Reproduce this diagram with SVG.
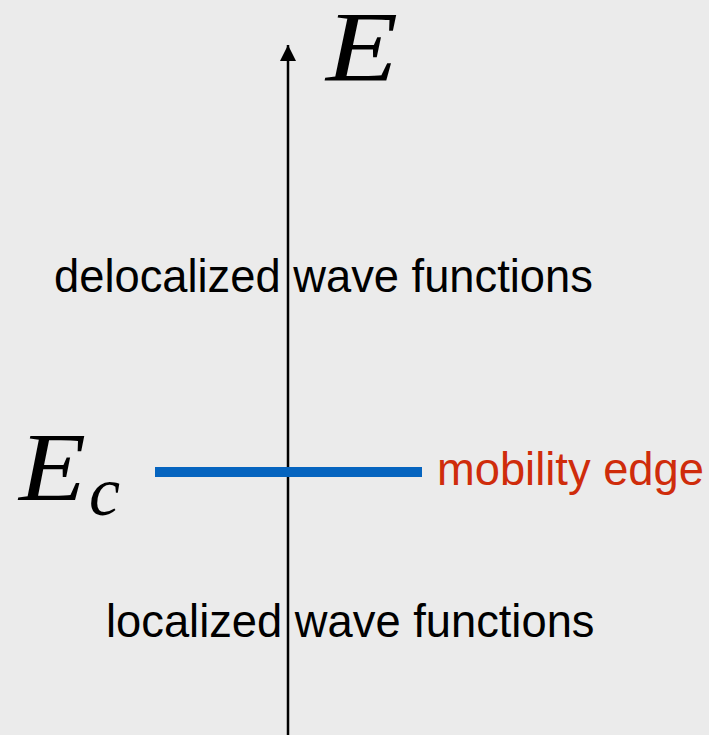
<svg xmlns="http://www.w3.org/2000/svg" width="709" height="735" viewBox="0 0 709 735">
<style>
.math{font-family:"Liberation Serif","Times New Roman",serif;font-style:italic;fill:#000}
.lbl{font-family:"Liberation Sans",Arial,sans-serif;font-size:45.3px;fill:#000}
.red{fill:#cf2c0b}
</style>
<defs>
<marker id="arr" viewBox="0 0 16 16" refX="16" refY="8" markerWidth="16" markerHeight="16" markerUnits="userSpaceOnUse" orient="auto">
<path d="M0,0 L16,8 L0,16 Z" fill="#000"/>
</marker>
</defs>
<rect width="709" height="735" fill="#ebebeb"/>
<g id="connectors">
<line x1="288" y1="735" x2="288" y2="45" stroke="#000" stroke-width="2.5" marker-end="url(#arr)"/>
</g>
<g id="axis-label">
<text class="math" transform="translate(326,80) scale(1.18,1)" x="0" y="0" font-size="100">E</text>
</g>
<g id="mobility-edge-line">
<rect x="155" y="467" width="267" height="10" fill="#0564bf"/>
</g>
<g id="ec-label">
<text class="math" transform="translate(19,500) scale(1.12,1)" x="0" y="0" font-size="98">E</text>
<text class="math" x="89" y="515" font-size="70">c</text>
</g>
<g id="mobility-edge-label">
<text class="lbl red" x="437" y="485">mobility edge</text>
</g>
<g id="delocalized">
<text class="lbl" x="54" y="292">delocalized wave functions</text>
</g>
<g id="localized">
<text class="lbl" x="106" y="637">localized wave functions</text>
</g>
</svg>
